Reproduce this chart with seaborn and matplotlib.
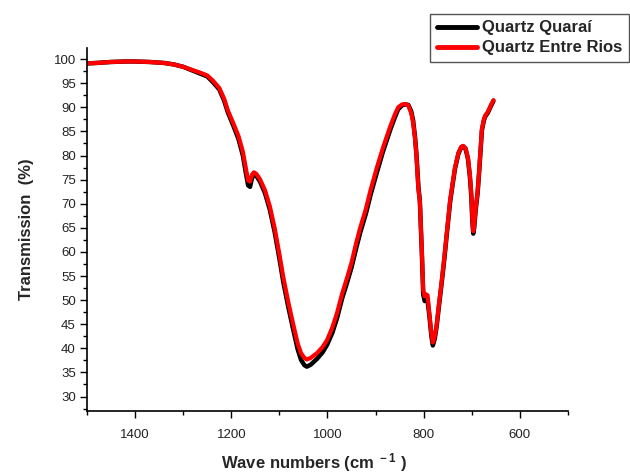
import matplotlib
matplotlib.use("Agg")
import matplotlib.pyplot as plt
from matplotlib.ticker import MultipleLocator
import seaborn as sns
import pandas as pd

# Wave numbers (cm-1) and transmission (%)
wn_entre_rios = [1500, 1480, 1450, 1420, 1400, 1370, 1340, 1320, 1300, 1280, 1265, 1250,
                 1238, 1225, 1215, 1207, 1195, 1185, 1176, 1170, 1165, 1161, 1157, 1153,
                 1148, 1140, 1130, 1120, 1110, 1100, 1092, 1082, 1072, 1062, 1055, 1048,
                 1043, 1035, 1022, 1010, 1001, 990, 980, 970, 960, 950, 940, 932, 920,
                 910, 897, 885, 870, 860, 853, 845, 839, 832, 826, 822, 818, 815, 811,
                 808, 804, 801, 798, 795, 792, 788, 784, 781, 777, 773, 768, 763, 757,
                 752, 745, 741, 735, 728, 722, 718, 713, 708, 704, 701, 699, 697, 695,
                 692, 688, 685, 682, 679, 675, 672, 667, 660, 655]
t_entre_rios = [99.1, 99.2, 99.4, 99.5, 99.5, 99.4, 99.2, 98.9, 98.4, 97.7, 97.2, 96.6,
                95.5, 94.0, 91.8, 89.3, 86.5, 84.0, 80.8, 77.5, 74.8, 74.6, 76.0, 76.5,
                76.2, 75.0, 72.8, 69.5, 65.0, 59.5, 54.8, 49.8, 45.3, 41.0, 39.0, 38.0,
                37.7, 38.0, 39.0, 40.3, 41.7, 44.3, 47.4, 51.2, 54.4, 57.8, 62.0, 65.0, 69.0,
                73.0, 77.6, 81.5, 85.9, 88.5, 90.0, 90.6, 90.7, 90.4, 88.8, 86.8, 83.5, 79.8, 73.0,
                70.5, 60.5, 52.0, 50.8, 51.2, 51.0, 47.0, 43.0, 41.2, 42.5, 45.0, 49.5, 53.6, 59.0,
                64.0, 70.8, 73.5, 77.5, 80.5, 81.8, 82.0, 81.5, 79.5, 76.0, 72.0, 67.0, 64.3, 65.5,
                69.0, 72.5, 76.5, 81.0, 85.5, 87.5, 88.3, 89.0, 90.5, 91.5]

wn_quarai = [1500, 1480, 1450, 1420, 1400, 1370, 1340, 1320, 1300, 1280, 1265, 1250,
             1238, 1225, 1215, 1207, 1195, 1185, 1176, 1170, 1165, 1161, 1157, 1153,
             1148, 1140, 1130, 1120, 1110, 1100, 1092, 1082, 1072, 1062, 1055, 1048,
             1043, 1035, 1022, 1010, 1001, 990, 980, 970, 960, 950, 940, 932, 920,
             910, 897, 885, 870, 860, 853, 845, 839, 832, 826, 822, 818, 815, 811,
             808, 804, 801, 798, 795, 792, 788, 784, 781, 777, 773, 768, 763, 757,
             752, 745, 741, 735, 728, 722, 718, 713, 708, 704, 701, 699, 697, 695,
             692, 688, 685, 682, 679, 675, 672, 667, 660, 655]
t_quarai = [99.1, 99.2, 99.4, 99.5, 99.5, 99.4, 99.2, 98.9, 98.4, 97.6, 97.0, 96.4,
            95.2, 93.7, 91.4, 88.9, 86.0, 83.4, 80.0, 76.5, 73.8, 73.5, 75.3, 76.0,
            75.8, 74.5, 72.2, 68.8, 64.2, 58.6, 53.8, 48.8, 44.2, 39.8, 37.6, 36.5,
            36.2, 36.6, 37.8, 39.2, 40.7, 43.2, 46.3, 50.2, 53.4, 56.8, 60.9, 64.0, 68.0,
            72.0, 76.6, 80.7, 85.2, 87.9, 89.6, 90.4, 90.6, 90.5, 89.2, 87.3, 83.8, 80.2, 73.5,
            70.6, 60.2, 51.2, 49.8, 50.0, 50.0, 46.5, 42.5, 40.6, 42.0, 44.6, 49.0, 53.2, 58.6,
            63.6, 70.4, 73.2, 77.2, 80.3, 81.7, 81.9, 81.4, 79.3, 75.6, 71.5, 66.5, 63.8, 65.0,
            68.6, 72.1, 76.1, 80.6, 85.2, 87.2, 88.1, 88.8, 90.3, 91.3]

series_names = ["Quartz Quaraí", "Quartz Entre Rios"]
series_colors = ["#000000", "#ff0000"]

x_ticks = [1400, 1200, 1000, 800, 600]
y_ticks = list(range(30, 101, 5))

sns.set_style("ticks")
plt.rcParams["font.family"] = ["Liberation Sans", "DejaVu Sans"]
plt.rcParams["mathtext.fontset"] = "custom"
plt.rcParams["mathtext.rm"] = "Liberation Sans:bold"
plt.rcParams["mathtext.default"] = "rm"

fig = plt.figure(figsize=(6.3, 4.74), dpi=100)
ax = fig.add_axes([87 / 630, 1 - 411 / 474, (568 - 87) / 630, (411 - 48) / 474])

df_q = pd.DataFrame({"wn": wn_quarai, "t": t_quarai})
df_e = pd.DataFrame({"wn": wn_entre_rios, "t": t_entre_rios})

sns.lineplot(data=df_q, x="wn", y="t", ax=ax, color=series_colors[0], linewidth=3.2,
             sort=False, label=series_names[0], legend=False)
sns.lineplot(data=df_e, x="wn", y="t", ax=ax, color=series_colors[1], linewidth=3.0,
             sort=False, label=series_names[1], legend=False)

ax.set_xlim(1500, 500)
ax.set_ylim(27.0, 102.3)
ax.set_xticks(x_ticks)
ax.set_yticks(y_ticks)
ax.xaxis.set_minor_locator(MultipleLocator(100))
ax.yaxis.set_minor_locator(MultipleLocator(2.5))
ax.tick_params(axis="both", which="major", direction="out", length=5, width=1,
               labelsize=9.5, color="black", labelcolor="#222222", pad=3)
ax.tick_params(axis="both", which="minor", direction="out", length=3, width=1, color="black")
ax.tick_params(axis="x", which="major", pad=8)

for side in ["top", "right"]:
    ax.spines[side].set_visible(False)
for side in ["left", "bottom"]:
    ax.spines[side].set_linewidth(1.2)
    ax.spines[side].set_color("black")

ax.set_xlabel("Wave numbers (cm$^{\\ -1}$ )", fontsize=12, fontweight="bold",
              labelpad=7, x=0.471)
ax.set_ylabel("Transmission  (%)", fontsize=12, fontweight="bold", labelpad=14)

handles, labels = ax.get_legend_handles_labels()
leg = fig.legend(handles, labels, loc="upper right", bbox_to_anchor=(0.998, 0.971),
                 frameon=True, fancybox=False, edgecolor="#555555", framealpha=1,
                 prop={"weight": "bold", "size": 12}, handlelength=2.4,
                 borderpad=0.4, labelspacing=0.3, handletextpad=0.3, borderaxespad=0)
leg.get_frame().set_linewidth(1.0)
for lh in leg.get_lines():
    lh.set_linewidth(3.5)

fig.savefig("out.png", dpi=100)
